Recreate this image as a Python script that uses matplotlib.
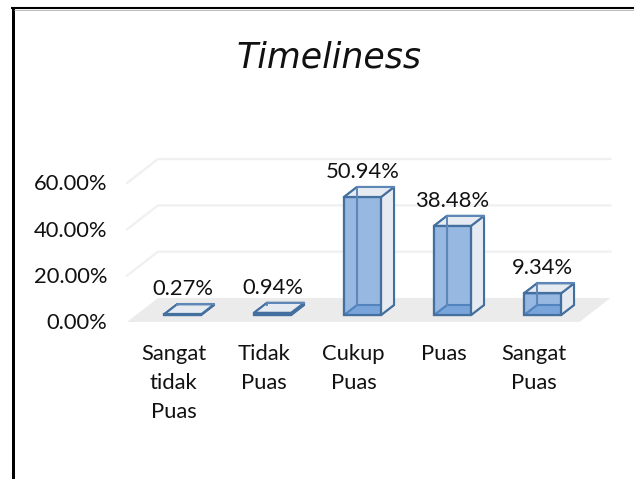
import matplotlib
matplotlib.use('Agg')
import matplotlib.pyplot as plt
from matplotlib.patches import Polygon

plt.rcParams['font.family'] = ['Lato', 'DejaVu Sans']

categories = ['Sangat\ntidak\nPuas', 'Tidak\nPuas', 'Cukup\nPuas', 'Puas', 'Sangat\nPuas']
values = [0.27, 0.94, 50.94, 38.48, 9.34]
y_ticks = [0, 20, 40, 60]

BLUE = '#44709F'
EDGE_BACK = '#5F88B8'
FRONT = '#9DBDE3'
SIDE = '#E6EAF1'
FLOOR = '#EBEBEB'
GRID = '#F0F0F0'
INK = '#111111'
PCT = 2.316  # pixels per percent
UNIT = 90.0  # pixels per category
W, H = 634, 479
X0, Y0 = 173.5, 322


# oblique view: depth d runs from the front (0) to the back (1) of the floor
def proj(c, v, d=0.0):
    return c + d * 31 / UNIT, v + d * 24 / PCT


fig = plt.figure(figsize=(W / 100, H / 100), dpi=100)
ax = fig.add_axes([0, 0, 1, 1])
ax.set_xlim(-X0 / UNIT, (W - X0) / UNIT)
ax.set_ylim((Y0 - H) / PCT, Y0 / PCT)
ax.axis('off')

# floor and walls
left, right = -0.517, 4.51
ax.add_patch(Polygon([proj(left, 0), proj(right, 0), proj(right, 0, 1), proj(left, 0, 1)],
                     fc=FLOOR, ec='none', zorder=1))
for t in y_ticks:
    if t > 0:
        ax.plot(*zip(proj(left, t), proj(left, t, 1), proj(right, t, 1)),
                color=GRID, lw=1.6, zorder=1)
    ax.text(-0.735, t - 0.6, f'{t:.2f}%', ha='right', va='center', fontsize=15.8, color=INK)

# bars, back faces first so the front shows through
half = 18.5 / UNIT
d0, d1 = 0.29, 0.71
for i, v in enumerate(values):
    a, b = i - half, i + half
    front = [proj(a, 0, d0), proj(b, 0, d0), proj(b, v, d0), proj(a, v, d0)]
    faces = [
        ([proj(a, 0, d0), proj(b, 0, d0), proj(b, 0, d1), proj(a, 0, d1)], FRONT),  # bottom
        ([proj(a, 0, d1), proj(b, 0, d1), proj(b, v, d1), proj(a, v, d1)], SIDE),   # back
        ([proj(a, 0, d0), proj(a, 0, d1), proj(a, v, d1), proj(a, v, d0)], SIDE),   # left
        ([proj(b, 0, d0), proj(b, 0, d1), proj(b, v, d1), proj(b, v, d0)], SIDE),   # right
        ([proj(a, v, d0), proj(b, v, d0), proj(b, v, d1), proj(a, v, d1)], SIDE),   # top
    ]
    for pts, col in faces:
        ax.add_patch(Polygon(pts, fc=col, ec=BLUE, lw=1.5, joinstyle='round', zorder=3))
    ax.add_patch(Polygon(front, fc='#5F94D6', alpha=0.58, ec='none', zorder=4))
    ax.add_patch(Polygon(front, fc='none', ec=BLUE, lw=1.6, zorder=5))
    ax.plot(*zip(proj(a, 0, d1), proj(a, v, d1), proj(b, v, d1)), color=EDGE_BACK, lw=1.4, zorder=5)
    ax.annotate(f'{v:.2f}%', (i + 0.1, proj(i, v, d1)[1]), xytext=(0, 10.8), textcoords='offset points',
                ha='center', va='center', fontsize=15.8, color=INK, zorder=6)
    ax.text(i, -9.4, categories[i], ha='center', va='top', fontsize=15.8,
            color=INK, linespacing=1.56)

ax.text(0.519, 1 - 68 / H, 'Timeliness', transform=ax.transAxes, ha='center', va='baseline',
        fontsize=25, style='italic', color=INK, family='DejaVu Sans')

# outline of the slide
fig.add_artist(plt.Line2D([12.5 / W, 12.5 / W], [0, 1 - 7 / H], color='black', lw=2.16,
                          solid_capstyle='butt'))
fig.add_artist(plt.Line2D([11 / W, 1], [1 - 8 / H, 1 - 8 / H], color='black', lw=1.5,
                          solid_capstyle='butt'))
fig.add_artist(plt.Line2D([14 / W, 1], [1 - 9.5 / H, 1 - 9.5 / H], color='#BBBBBB', lw=0.7,
                          solid_capstyle='butt'))

fig.savefig('out.png', dpi=100)
